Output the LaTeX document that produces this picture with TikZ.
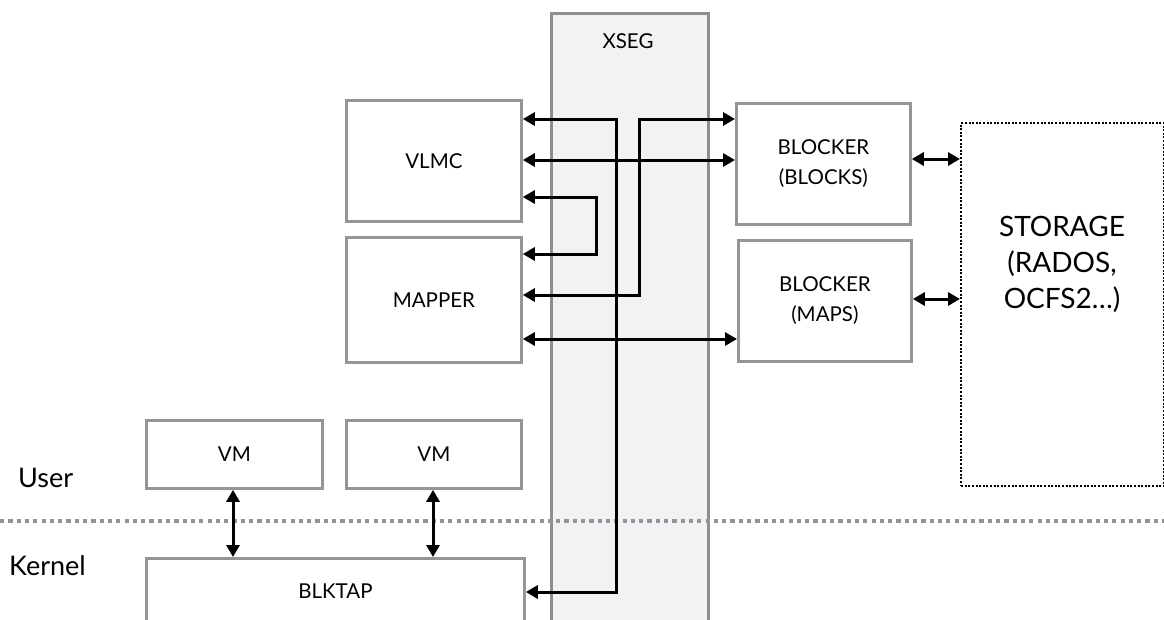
\documentclass[tikz,border=0pt]{standalone}
\usepackage{fontspec}
\setmainfont{Lato}
\usetikzlibrary{arrows.meta}
\definecolor{boxgray}{HTML}{939598}
\definecolor{xsegfill}{HTML}{F1F2F4}
\definecolor{divgray}{HTML}{919397}
\tikzset{
  box/.style={draw=boxgray, line width=2.8pt, fill=white, anchor=north west, inner sep=0pt, align=center, font=\fontsize{20.5}{30}\selectfont},
  arr/.style={line width=3pt, {Triangle[length=12pt,width=13pt]}-{Triangle[length=12pt,width=13pt]}},
  lbl/.style={inner sep=0pt, align=center},
}
\begin{document}
\begin{tikzpicture}[x=1pt,y=-1pt]
\useasboundingbox (0,0) rectangle (1164,619);
\clip (0,0) rectangle (1164,619);
% XSEG column
\node[box, fill=xsegfill, draw=boxgray!95!black, minimum width=157pt, minimum height=640pt] (xseg) at (550,12) {};
\node[lbl, anchor=base, font=\fontsize{20.5}{30}\selectfont] (xsegl) at (628,48) {XSEG};
% divider
\coordinate (dl) at (0,521);
\coordinate (dr) at (1164,521);
\draw[divgray, line width=3.6pt, dash pattern=on 4.2pt off 4.1pt] (dl) -- (dr);
% boxes
\node[box, minimum width=175pt, minimum height=121pt] (vlmc) at (345,99) {VLMC};
\node[box, minimum width=175pt, minimum height=125pt] (mapper) at (345,236) {MAPPER};
\node[box, minimum width=174pt, minimum height=121pt] (blocks) at (735,102) {BLOCKER\\(BLOCKS)};
\node[box, minimum width=173pt, minimum height=121pt] (maps) at (737,239) {BLOCKER\\(MAPS)};
\node[box, minimum width=176pt, minimum height=68pt] (vma) at (145,419) {VM};
\node[box, minimum width=175pt, minimum height=68pt] (vmb) at (345,419) {VM};
\node[box, minimum width=378pt, minimum height=66pt] (blktap) at (145,557) {BLKTAP};
% storage
\node[draw=black, line width=2.2pt, dash pattern=on 2pt off 1.6pt, anchor=north west, inner sep=0pt, minimum width=203pt, minimum height=363pt] (storage) at (960,122) {};
\node[lbl, font=\fontsize{28}{36}\selectfont] (storagel) at (1062,264) {STORAGE\\(RADOS,\\OCFS2\ldots)};
% layer labels
\node[lbl, anchor=base west, font=\fontsize{27}{30}\selectfont] (user) at (18,487) {User};
\node[lbl, anchor=base west, font=\fontsize{27}{30}\selectfont] (kernel) at (9,575) {Kernel};
% connectors
\draw[arr] (vlmc.east |- 0,119) -| (616,592) -- (blktap.east |- 0,592);
\draw[arr] (mapper.east |- 0,295) -| (639,119) -- (blocks.west |- 0,119);
\draw[arr] (vlmc.east |- 0,160) -- (blocks.west |- 0,160);
\draw[arr] (vlmc.east |- 0,197) -| (596,254) -- (mapper.east |- 0,254);
\draw[arr] (mapper.east |- 0,339) -- (maps.west |- 0,339);
\draw[arr] (blocks.east |- 0,159) -- (storage.west |- 0,159);
\draw[arr] (maps.east |- 0,299) -- (storage.west |- 0,299);
\draw[arr] (vma.south -| 233,0) -- (blktap.north -| 233,0);
\draw[arr] (vmb.south -| 433,0) -- (blktap.north -| 433,0);
\end{tikzpicture}
\end{document}
